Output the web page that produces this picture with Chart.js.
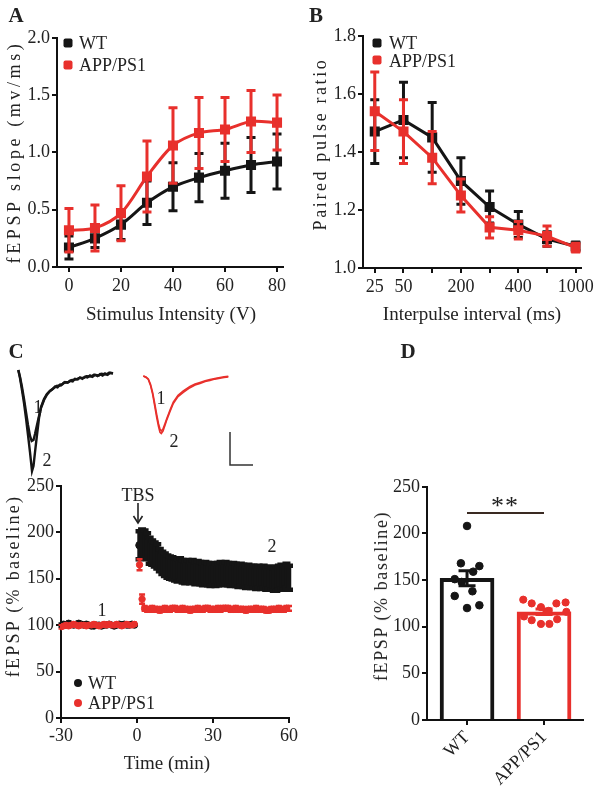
<!DOCTYPE html>
<html>
<head>
<meta charset="utf-8">
<script src="https://cdn.jsdelivr.net/npm/chart.js@4.4.1/dist/chart.umd.min.js"></script>
<style>
  body { margin: 0; width: 597px; height: 793px; overflow: hidden; background: #fff; position: relative; font-family: 'Liberation Serif', serif; color: #222; }
  canvas { position: absolute; }
  .t { position: absolute; white-space: nowrap; font-size: 18px; line-height: 1; transform: translate(-50%, -50%); }
  .l { position: absolute; white-space: nowrap; font-size: 18px; line-height: 1; transform: translateY(-50%); }
  .v { transform: translate(-50%, -50%) rotate(-90deg); }
  .letter { font-weight: bold; font-size: 21px; }
  .mk { position: absolute; width: 9px; height: 9px; border-radius: 2px; transform: translate(-50%, -50%); }
  .dot { position: absolute; width: 8px; height: 8px; border-radius: 50%; transform: translate(-50%, -50%); }
</style>
</head>
<body>
<canvas id="traces" style="left:0;top:355px" width="260" height="125"></canvas>
<canvas id="chartA" style="left:0;top:25px" width="297" height="280"></canvas>
<canvas id="chartB" style="left:297px;top:23px" width="300" height="282"></canvas>
<canvas id="chartC" style="left:0;top:473px" width="300" height="275"></canvas>
<canvas id="chartD" style="left:380px;top:474px" width="217" height="319"></canvas>

<!-- panel letters -->
<div class="t letter" style="left:16px;top:15px">A</div>
<div class="t letter" style="left:316px;top:15px">B</div>
<div class="t letter" style="left:16px;top:351px">C</div>
<div class="t letter" style="left:408px;top:351px">D</div>

<!-- A texts -->
<div class="t v" style="left:14px;top:152px;letter-spacing:3.6px">fEPSP slope (mv/ms)</div>
<div class="t" style="left:171px;top:313px;font-size:19px">Stimulus Intensity (V)</div>
<div class="mk" style="left:68px;top:43px;background:#151515"></div>
<div class="l" style="left:79px;top:43px">WT</div>
<div class="mk" style="left:68px;top:65px;background:#e8302c"></div>
<div class="l" style="left:79px;top:65px">APP/PS1</div>

<!-- B texts -->
<div class="t v" style="left:320px;top:144px;letter-spacing:2.6px">Paired pulse ratio</div>
<div class="t" style="left:472px;top:313px;font-size:19px">Interpulse interval (ms)</div>
<div class="mk" style="left:377px;top:43px;background:#151515"></div>
<div class="l" style="left:389px;top:43px">WT</div>
<div class="mk" style="left:377px;top:60px;background:#e8302c"></div>
<div class="l" style="left:389px;top:61px">APP/PS1</div>

<!-- C trace labels -->
<div class="t" style="left:38px;top:407px">1</div>
<div class="t" style="left:47px;top:460px">2</div>
<div class="t" style="left:161px;top:398px">1</div>
<div class="t" style="left:174px;top:441px">2</div>

<!-- C LTP texts -->
<div class="t v" style="left:13px;top:586px;letter-spacing:2.3px">fEPSP (% baseline)</div>
<div class="t" style="left:167px;top:762px;font-size:19px">Time (min)</div>
<div class="t" style="left:138px;top:495px">TBS</div>
<svg style="position:absolute;left:132px;top:503px" width="12" height="22">
  <line x1="6" y1="0" x2="6" y2="19" stroke="#222" stroke-width="1.6"/>
  <polyline points="1.5,13 6,20 10.5,13" fill="none" stroke="#222" stroke-width="1.6"/>
</svg>
<div class="t" style="left:102px;top:610px">1</div>
<div class="t" style="left:272px;top:546px">2</div>
<div class="dot" style="left:78px;top:683px;background:#151515"></div>
<div class="l" style="left:88px;top:683px">WT</div>
<div class="dot" style="left:78px;top:703px;background:#e8302c"></div>
<div class="l" style="left:88px;top:703px">APP/PS1</div>

<!-- D texts -->
<div class="t v" style="left:381px;top:596px;letter-spacing:1.6px">fEPSP (% baseline)</div>
<div style="position:absolute;left:467px;top:512px;width:77px;height:2px;background:#3a2a22"></div>
<div class="t" style="left:505px;top:506px;font-size:26px;letter-spacing:1px">**</div>

<script>
const BLACK = '#151515';
const RED = '#e8302c';

// ---- A: input/output curve ----
const intensityA = [0, 10, 20, 30, 40, 50, 60, 70, 80];
const wtSlopeA = [0.17, 0.25, 0.37, 0.56, 0.70, 0.78, 0.84, 0.89, 0.92];
const wtErrA = [0.10, 0.08, 0.13, 0.19, 0.21, 0.21, 0.24, 0.24, 0.24];
const appSlopeA = [0.32, 0.34, 0.47, 0.79, 1.06, 1.17, 1.20, 1.27, 1.26];
const appErrA = [0.19, 0.20, 0.24, 0.31, 0.33, 0.31, 0.28, 0.27, 0.24];
const yTicksA = [0, 0.5, 1.0, 1.5, 2.0];
const xTicksA = [0, 20, 40, 60, 80];

// ---- B: paired pulse ratio ----
const intervalsB = [25, 50, 100, 200, 300, 400, 500, 1000];
const intervalLabelsB = ['25', '50', '', '200', '', '400', '', '1000'];
const wtPprB = [1.47, 1.51, 1.45, 1.30, 1.21, 1.15, 1.10, 1.075];
const wtErrB = [0.11, 0.13, 0.12, 0.08, 0.055, 0.045, 0.025, 0.015];
const appPprB = [1.54, 1.47, 1.38, 1.25, 1.14, 1.13, 1.11, 1.07];
const appErrB = [0.135, 0.11, 0.09, 0.057, 0.037, 0.03, 0.035, 0.015];
const yTicksB = [1.0, 1.2, 1.4, 1.6, 1.8];

// ---- C: sample traces (ms, mV) ----
const wtTrace1 = [[3.98,-0.227],[4.35,-0.333],[4.78,-0.485],[5.22,-0.667],[5.65,-0.864],[6.09,-1.061],[6.52,-1.227],[6.89,-1.303],[7.28,-1.288],[7.61,-1.197],[8.04,-1.061],[8.48,-0.924],[8.91,-0.803],[9.57,-0.682],[10.2,-0.600],[10.87,-0.545],[11.4,-0.52],[11.96,-0.48],[12.5,-0.49],[13.04,-0.45],[13.6,-0.44],[14.13,-0.41],[14.7,-0.42],[15.22,-0.39],[15.8,-0.40],[16.3,-0.36],[16.9,-0.37],[17.39,-0.34],[17.9,-0.36],[18.48,-0.33],[19.0,-0.34],[19.57,-0.31],[20.1,-0.33],[20.65,-0.30],[21.2,-0.32],[21.74,-0.29],[22.3,-0.31],[22.83,-0.28],[23.4,-0.30],[23.91,-0.27],[24.57,-0.28]];
const wtTrace2 = [[3.98,-0.227],[4.35,-0.348],[4.78,-0.530],[5.22,-0.727],[5.65,-0.955],[6.09,-1.212],[6.52,-1.470],[6.96,-1.758],[7.28,-1.682],[7.61,-1.470],[8.04,-1.212],[8.48,-0.955],[8.91,-0.788],[9.57,-0.667],[10.2,-0.591],[10.87,-0.545],[11.7,-0.50],[12.3,-0.47],[13.3,-0.46],[13.9,-0.42],[14.9,-0.41],[15.5,-0.38],[16.6,-0.37],[17.1,-0.35],[18.2,-0.345],[18.8,-0.32],[19.8,-0.325],[20.4,-0.30],[21.5,-0.31],[22.0,-0.285],[23.1,-0.295],[23.7,-0.27],[24.57,-0.275]];
const appTrace1 = [[31.15,-0.318],[31.74,-0.333],[32.24,-0.364],[32.72,-0.445],[33.2,-0.575],[33.63,-0.735],[34.07,-0.905],[34.46,-1.04],[34.78,-1.125],[35.07,-1.15],[35.43,-1.12],[35.87,-1.04],[36.3,-0.955],[36.96,-0.835],[37.67,-0.715],[38.7,-0.610],[39.85,-0.545],[41.3,-0.475],[42.4,-0.44],[43.48,-0.415],[44.6,-0.39],[45.65,-0.37],[46.7,-0.355],[47.83,-0.34],[48.7,-0.33],[49.63,-0.322]];
const appTrace2 = [[31.15,-0.318],[31.74,-0.340],[32.24,-0.370],[32.72,-0.460],[33.2,-0.600],[33.63,-0.770],[34.07,-0.950],[34.46,-1.085],[34.78,-1.170],[35.07,-1.190],[35.43,-1.155],[35.87,-1.065],[36.3,-0.975],[36.96,-0.855],[37.67,-0.735],[38.7,-0.630],[39.85,-0.565],[41.3,-0.495],[42.4,-0.455],[43.48,-0.43],[44.6,-0.40],[45.65,-0.385],[46.7,-0.365],[47.83,-0.35],[48.7,-0.34],[49.63,-0.332]];
const scaleBarMs = 5;
const scaleBarMv = 0.5;
const scaleBarCorner = [50, -1.667];

// ---- C: LTP time course ----
const timeBase = [-30,-29,-28,-27,-26,-25,-24,-23,-22,-21,-20,-19,-18,-17,-16,-15,-14,-13,-12,-11,-10,-9,-8,-7,-6,-5,-4,-3,-2,-1];
const timePost = [1,2,3,4,5,6,7,8,9,10,11,12,13,14,15,16,17,18,19,20,21,22,23,24,25,26,27,28,29,30,31,32,33,34,35,36,37,38,39,40,41,42,43,44,45,46,47,48,49,50,51,52,53,54,55,56,57,58,59,60];
const wtBase = [100,101,100,102,101,100,101,102,101,100,101,100,99,99,100,100,99,100,100,101,100,99,100,101,100,101,100,100,101,100];
const wtBaseErr = [2,2,2,2,2,2,2,2,2,2,2,2,2,2,2,2,2,2,2,2,2,2,2,2,2,2,2,2,2,2];
const appBase = [98,99,100,99,100,101,100,99,100,100,99,100,100,101,100,99,100,101,100,101,100,100,101,100,99,100,101,100,100,101];
const appBaseErr = [2,2,2,2,2,2,2,2,2,2,2,2,2,2,2,2,2,2,2,2,2,2,2,2,2,2,2,2,2,2];
const wtPost = [186,188,187,185,180,178,176,174,170,167,165,163,162,161,160,159,160,158,157,158,157,158,156,157,156,155,156,155,154,155,154,155,156,155,156,155,154,155,154,153,154,153,152,153,152,152,151,152,151,152,150,151,150,149,150,151,152,151,153,151];
const wtPostErr = [15,15,15,14,14,13,13,13,12,12,12,12,12,12,12,12,12,12,12,12,12,12,12,12,12,12,12,12,12,12,12,12,12,12,12,12,12,12,12,12,12,12,12,12,12,12,12,12,12,12,12,12,12,12,13,13,13,13,13,13];
const appPost = [165,128,118,117,117,118,117,117,116,117,118,117,117,118,118,117,117,118,117,117,116,117,117,118,117,117,118,118,117,117,117,118,117,118,118,118,117,117,118,117,117,117,116,117,117,117,118,117,117,117,116,116,117,117,117,118,117,117,118,118];
const appPostErr = [6,5,2.5,2.5,2.5,2.5,2.5,2.5,2.5,2.5,2.5,2.5,2.5,2.5,2.5,2.5,2.5,2.5,2.5,2.5,2.5,2.5,2.5,2.5,2.5,2.5,2.5,2.5,2.5,2.5,2.5,2.5,2.5,2.5,2.5,2.5,2.5,2.5,2.5,2.5,2.5,2.5,2.5,2.5,2.5,2.5,2.5,2.5,2.5,2.5,2.5,2.5,2.5,2.5,2.5,2.5,2.5,2.5,2.5,2.5];
const yTicksC = [0, 50, 100, 150, 200, 250];
const xTicksC = [-30, 0, 30, 60];

// ---- D: LTP summary ----
const groupsD = ['WT', 'APP/PS1'];
const meanD = [152, 116];
const semD = [8, 3];
const wtCells = [208, 168, 165, 159, 151, 148, 138, 133, 120, 123];
const wtJitter = [0, -0.08, 0.16, 0.08, -0.16, -0.07, 0.07, -0.16, 0, 0.16];
const appCells = [129, 125, 121, 125, 126, 111, 107, 103, 103, 108, 116, 117];
const appJitter = [-0.27, -0.16, -0.04, 0.16, 0.28, -0.26, -0.16, -0.04, 0.07, 0.17, 0.29, 0.06];
const yTicksD = [0, 50, 100, 150, 200, 250];

Chart.defaults.font.family = "'Liberation Serif', serif";
Chart.defaults.font.size = 18;
Chart.defaults.color = '#222';
Chart.defaults.animation = false;
Chart.defaults.plugins.legend.display = false;
Chart.defaults.plugins.tooltip.enabled = false;

// error bars drawn right after each dataset, from dataset.errors
const errorBars = {
  id: 'errorBars',
  afterDatasetDraw(chart, args) {
    const ds = chart.data.datasets[args.index];
    if (!ds.errors) return;
    const meta = args.meta;
    const yScale = chart.scales[meta.yAxisID];
    const ctx = chart.ctx;
    const col = ds.errorColor || ds.borderColor;
    ctx.save();
    ctx.lineWidth = ds.errorWidth || 2;
    const cap = ds.capWidth || 6;
    meta.data.forEach((el, i) => {
      const v = meta.controller.getParsed(i).y;
      const e = ds.errors[i];
      const top = yScale.getPixelForValue(v + e);
      const bot = yScale.getPixelForValue(v - e);
      const x = el.x;
      ctx.strokeStyle = Array.isArray(col) ? col[i] : col;
      ctx.beginPath();
      ctx.moveTo(x, top); ctx.lineTo(x, bot);
      ctx.moveTo(x - cap / 2, top); ctx.lineTo(x + cap / 2, top);
      ctx.moveTo(x - cap / 2, bot); ctx.lineTo(x + cap / 2, bot);
      ctx.stroke();
    });
    ctx.restore();
  }
};

function axis(opts) {
  const tickVals = opts.tickValues;
  return {
    type: 'linear',
    min: opts.min, max: opts.max,
    offset: false,
    afterBuildTicks: s => { s.ticks = tickVals.map(v => ({ value: v })); },
    afterFit: s => { if (opts.width) s.width = opts.width; if (opts.height) s.height = opts.height; },
    border: { display: true, color: '#111', width: 2 },
    grid: { display: true, offset: false, drawOnChartArea: false, drawTicks: true, tickLength: 5, color: '#111', lineWidth: 2 },
    ticks: Object.assign({ color: '#222', padding: 2, font: { size: 18 }, autoSkip: false, minRotation: 0, maxRotation: 0 }, opts.ticks || {})
  };
}

function pts(xs, ys) { return xs.map((x, i) => ({ x: x, y: ys[i] })); }

// ---- A ----
new Chart(document.getElementById('chartA'), {
  type: 'line',
  data: {
    datasets: [
      { data: pts(intensityA, appSlopeA), errors: appErrA, borderColor: RED, backgroundColor: RED, borderWidth: 3,
        pointStyle: 'rect', pointRadius: 5, errorWidth: 3, capWidth: 9, tension: 0.3 },
      { data: pts(intensityA, wtSlopeA), errors: wtErrA, borderColor: BLACK, backgroundColor: BLACK, borderWidth: 3,
        pointStyle: 'rect', pointRadius: 5, errorWidth: 3, capWidth: 9, tension: 0.3 }
    ]
  },
  options: {
    responsive: false,
    layout: { padding: { left: 0, top: 12, right: 14, bottom: 0 } },
    scales: {
      x: axis({ min: -4.6, max: 82.3, tickValues: xTicksA, height: 38, ticks: { padding: 3 } }),
      y: axis({ min: 0, max: 2, tickValues: yTicksA, width: 57, ticks: { callback: v => v.toFixed(1) } })
    }
  },
  plugins: [errorBars]
});

// ---- B ----
const idxB = intervalsB.map((v, i) => i);
new Chart(document.getElementById('chartB'), {
  type: 'line',
  data: {
    datasets: [
      { data: pts(idxB, appPprB), errors: appErrB, borderColor: RED, backgroundColor: RED, borderWidth: 3,
        pointStyle: 'rect', pointRadius: 5, errorWidth: 3, capWidth: 9 },
      { data: pts(idxB, wtPprB), errors: wtErrB, borderColor: BLACK, backgroundColor: BLACK, borderWidth: 3,
        pointStyle: 'rect', pointRadius: 5, errorWidth: 3, capWidth: 9 }
    ]
  },
  options: {
    responsive: false,
    layout: { padding: { left: 0, top: 12, right: 12, bottom: 0 } },
    scales: {
      x: axis({ min: -0.41, max: 7.17, tickValues: idxB, height: 37,
        ticks: { padding: 3, callback: v => intervalLabelsB[v] } }),
      y: axis({ min: 1.0, max: 1.8, tickValues: yTicksB, width: 66, ticks: { callback: v => v.toFixed(1) } })
    }
  },
  plugins: [errorBars]
});

// ---- C traces ----
function xy(arr) { return arr.map(p => ({ x: p[0], y: p[1] })); }
const sb = [
  { x: scaleBarCorner[0], y: scaleBarCorner[1] + scaleBarMv },
  { x: scaleBarCorner[0], y: scaleBarCorner[1] },
  { x: scaleBarCorner[0] + scaleBarMs, y: scaleBarCorner[1] }
];
new Chart(document.getElementById('traces'), {
  type: 'line',
  data: {
    datasets: [
      { data: xy(wtTrace1), borderColor: BLACK, borderWidth: 2.4, pointRadius: 0 },
      { data: xy(wtTrace2), borderColor: BLACK, borderWidth: 2.4, pointRadius: 0 },
      { data: xy(appTrace1), borderColor: RED, borderWidth: 1.6, pointRadius: 0 },
      { data: xy(appTrace2), borderColor: RED, borderWidth: 1.6, pointRadius: 0 },
      { data: sb, borderColor: '#333', borderWidth: 1.5, pointRadius: 0 }
    ]
  },
  options: {
    responsive: false,
    layout: { padding: 0 },
    scales: {
      x: { type: 'linear', display: false, min: 0, max: 56.52 },
      y: { type: 'linear', display: false, min: -1.894, max: 0 }
    }
  }
});

// ---- C LTP ----
new Chart(document.getElementById('chartC'), {
  type: 'scatter',
  data: {
    datasets: [
      { data: pts(timeBase, appBase), errors: appBaseErr, backgroundColor: RED, borderColor: RED, pointRadius: 3, errorWidth: 2, capWidth: 5 },
      { data: pts(timePost, appPost), errors: appPostErr, backgroundColor: RED, borderColor: RED, pointRadius: 3.2, errorWidth: 2.5, capWidth: 6 },
      { data: pts(timeBase, wtBase), errors: wtBaseErr, backgroundColor: BLACK, borderColor: BLACK, pointRadius: 3.2, errorWidth: 2, capWidth: 5 },
      { data: pts(timePost, wtPost), errors: wtPostErr, backgroundColor: BLACK, borderColor: BLACK, pointRadius: 3.8, errorWidth: 4.5, capWidth: 8 }
    ]
  },
  options: {
    responsive: false,
    layout: { padding: { left: 0, top: 12, right: 7, bottom: 0 } },
    scales: {
      x: axis({ min: -30, max: 60, tickValues: xTicksC, height: 30, ticks: { padding: 2 } }),
      y: axis({ min: 0, max: 250, tickValues: yTicksC, width: 61 })
    }
  },
  plugins: [errorBars]
});

// ---- D ----
const posD = groupsD.map((g, i) => i + 1);
new Chart(document.getElementById('chartD'), {
  type: 'bar',
  data: {
    datasets: [
      { type: 'bar', data: pts(posD, meanD), backgroundColor: '#fff', borderColor: [BLACK, RED], borderWidth: 4,
        barThickness: 54, grouped: false, order: 3 },
      { type: 'scatter', data: pts(wtCells.map((v, i) => 1 + wtJitter[i]), wtCells), backgroundColor: BLACK, borderColor: BLACK, pointRadius: 3.8, order: 2 },
      { type: 'scatter', data: pts(appCells.map((v, i) => 2 + appJitter[i]), appCells), backgroundColor: RED, borderColor: RED, pointRadius: 3.6, order: 2 },
      { type: 'scatter', data: pts(posD, meanD), errors: semD, pointRadius: 0, borderColor: [BLACK, RED], errorColor: [BLACK, RED],
        errorWidth: 3, capWidth: 17, order: 1 }
    ]
  },
  options: {
    responsive: false,
    layout: { padding: { left: 0, top: 12, right: 14, bottom: 0 } },
    scales: {
      x: axis({ min: 0.48, max: 2.506, tickValues: posD, height: 73,
        ticks: { padding: 2, minRotation: 45, maxRotation: 45, callback: v => groupsD[v - 1] } }),
      y: axis({ min: 0, max: 250, tickValues: yTicksD, width: 47 })
    }
  },
  plugins: [errorBars]
});
</script>
</body>
</html>
